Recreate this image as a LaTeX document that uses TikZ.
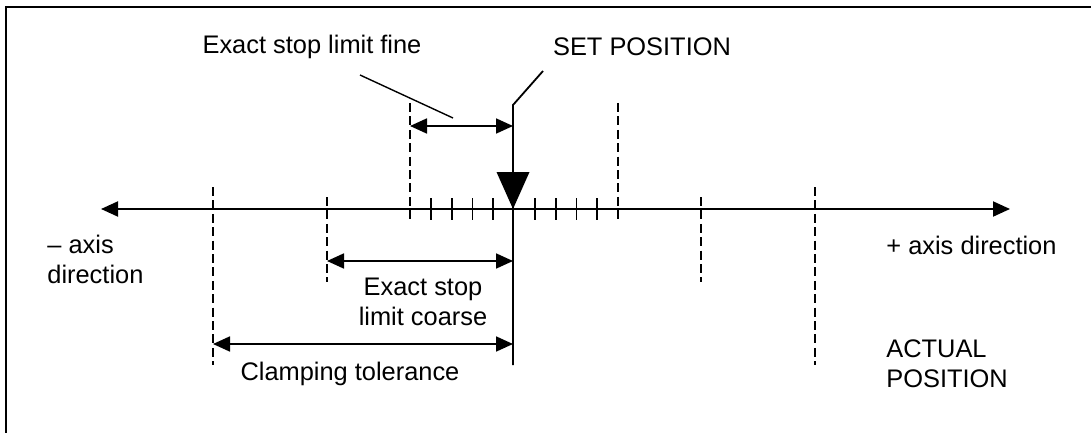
\documentclass[tikz,border=0pt]{standalone}
\usepackage{fontspec}
\setmainfont{Liberation Sans}
\usetikzlibrary{positioning, arrows.meta}

\begin{document}
\begin{tikzpicture}[
        % ----- 全局样式 -----
        x=0.5pt, y=-0.5pt,
        font=\fontsize{12.7}{15}\selectfont,
        >={Triangle[length=8.5pt,width=7.5pt]},
        % 坐标轴与尺寸箭头
        axisline/.style={line width=1pt, <->},
        dimline/.style={line width=0.9pt, <->},
        limitline/.style={line width=0.9pt, dash pattern=on 4.5pt off 2.2pt},
        scalemark/.style={line width=0.9pt},
        leader/.style={line width=0.7pt},
        lbl/.style={inner sep=0pt, align=center}
    ]
    \useasboundingbox (0,0) rectangle (1091,433);
    \coordinate (frameTL) at (6,7);
    \draw[line width=1pt] (6,433) -- (frameTL) -- (1091,7);

    % ----- 坐标轴 -----
    \coordinate (set) at (513,209);
    \coordinate (axl) at (101,209);
    \coordinate (axr) at (1010,209);
    \draw[axisline] (axl) -- (axr);

    % ----- 虚线界限 -----
    \foreach \n/\x/\a/\b in {fineL/410/103/220, fineR/618/103/220,
                             coarseL/327/197/282, coarseR/701/197/282,
                             clampL/213/187/365, clampR/815/187/365} {
        \coordinate (\n-top) at (\x,\a);
        \coordinate (\n-bot) at (\x,\b);
        \draw[limitline] (\n-top) -- (\n-bot);
    }
    \foreach \k in {1,2,3,4,6,7,8,9}
        \draw[scalemark] ({410+20.8*\k},198) -- ({410+20.8*\k},220);

    % ----- 设定位置 -----
    \coordinate (kink) at (513,105);
    \coordinate (setlead) at (543,71);
    \coordinate (foot) at (513,365);
    \draw[line width=0.9pt] (setlead) -- (kink) -- (set) -- (foot);
    \fill (set) -- ++(-16.5,-37) -- ++(33,0) -- cycle;

    % ----- 尺寸箭头 -----
    \coordinate (fineA) at (410,126);
    \coordinate (fineB) at (513,126);
    \coordinate (coarseA) at (327,261);
    \coordinate (coarseB) at (513,261);
    \coordinate (clampA) at (213,344);
    \coordinate (clampB) at (513,344);
    \path[dimline]
    (fineA) edge (fineB)
    (coarseA) edge (coarseB)
    (clampA) edge (clampB);

    \coordinate (finelead) at (360,75);
    \coordinate (fineleadend) at (453,118);
    \draw[leader] (finelead) -- (fineleadend);

    % ----- 文字 -----
    \node[lbl] (finelbl) at (312,47) {Exact stop limit fine};
    \node[lbl] (setlbl) at (642,47) {SET POSITION};
    \node[lbl] (coarselbl) at (423,302) {Exact stop\\limit coarse};
    \node[lbl] (clamplbl) at (350,374) {Clamping tolerance};
    \node[lbl, align=left, anchor=west] (minuslbl) at (47,259) {– axis\\direction};
    \node[lbl, anchor=west] (pluslbl) at (886,245) {+ axis direction};
    \node[lbl, align=left, anchor=west] (actlbl) at (886,364) {ACTUAL\\POSITION};
\end{tikzpicture}
\end{document}
